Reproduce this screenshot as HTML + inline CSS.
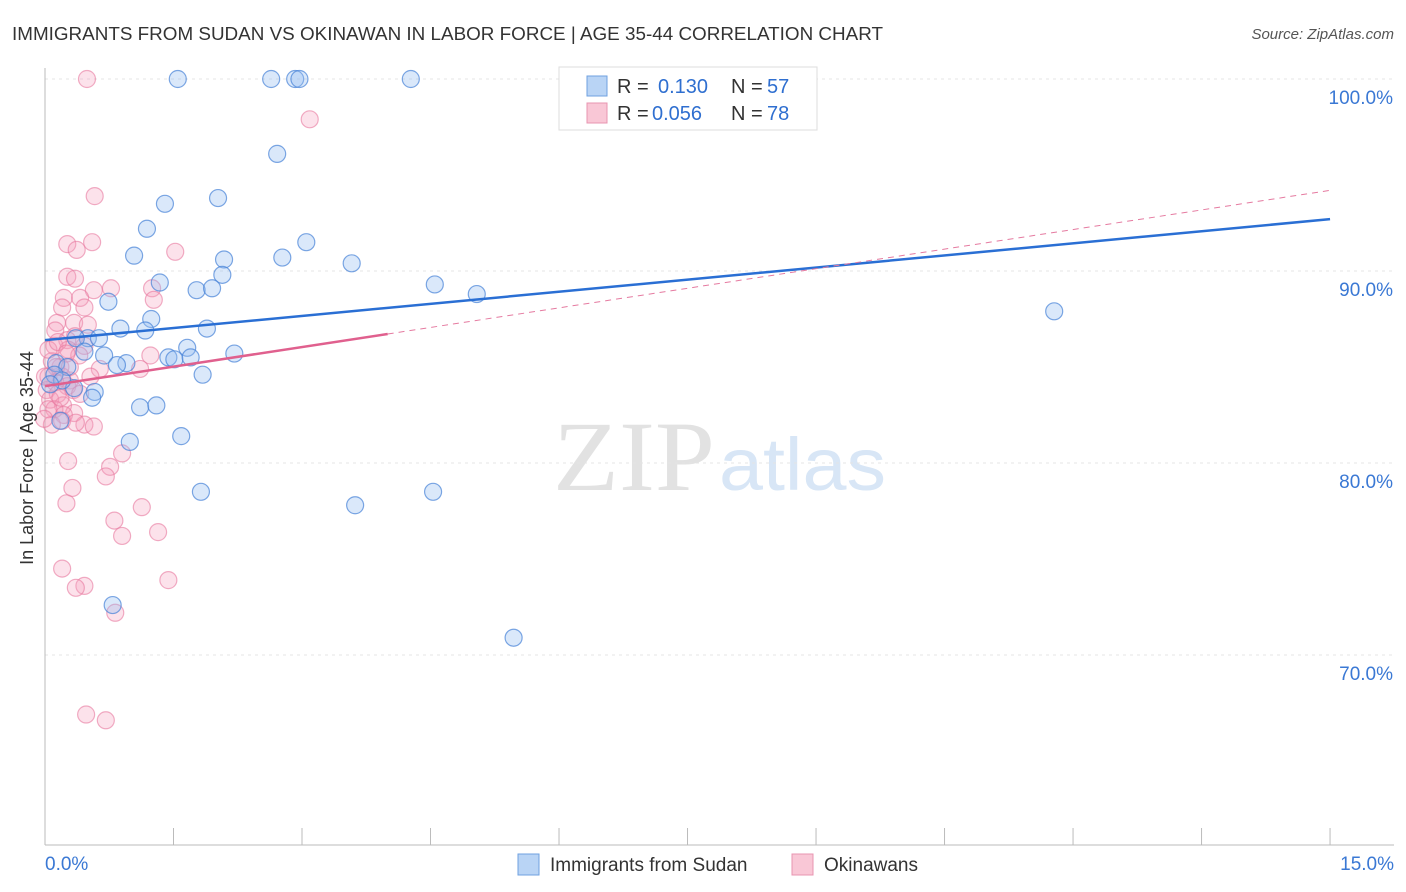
<!DOCTYPE html>
<html><head><meta charset="utf-8"><style>
body{margin:0;background:#fff;font-family:"Liberation Sans",sans-serif}
svg{display:block}
</style></head><body>
<svg id="c" width="1406" height="892">
<text x="12" y="40" font-size="18" fill="#333" textLength="871" lengthAdjust="spacingAndGlyphs">IMMIGRANTS FROM SUDAN VS OKINAWAN IN LABOR FORCE | AGE 35-44 CORRELATION CHART</text>
<text x="1394" y="39" font-size="15" fill="#555" font-style="italic" text-anchor="end">Source: ZipAtlas.com</text>
<text x="553" y="490" font-size="100" fill="#e2e2e2" textLength="162" lengthAdjust="spacingAndGlyphs" font-family="Liberation Serif,serif">ZIP</text>
<text x="719" y="490" font-size="74" fill="#d8e6f6" textLength="167" lengthAdjust="spacingAndGlyphs">atlas</text>
<g id="grid"></g><g id="axes"></g><g id="pts"></g><g id="lines"></g>
<text x="33" y="458" font-size="18" fill="#333" text-anchor="middle" transform="rotate(-90 33 458)">In Labor Force | Age 35-44</text>
<g>
<rect x="559" y="67" width="258" height="63" fill="#fff" stroke="#ddd"/>
<rect x="587" y="76" width="20" height="20" fill="#b9d4f5" stroke="#6fa1e0"/>
<rect x="587" y="103" width="20" height="20" fill="#f9c7d6" stroke="#e894b0"/>
<text x="617" y="93" font-size="20" fill="#333">R =</text>
<text x="658" y="93" font-size="20" fill="#2f6fd0">0.130</text>
<text x="731" y="93" font-size="20" fill="#333">N =</text>
<text x="767" y="93" font-size="20" fill="#2f6fd0">57</text>
<text x="617" y="120" font-size="20" fill="#333">R =</text>
<text x="652" y="120" font-size="20" fill="#2f6fd0">0.056</text>
<text x="731" y="120" font-size="20" fill="#333">N =</text>
<text x="767" y="120" font-size="20" fill="#2f6fd0">78</text>
</g>
<g>
<rect x="518" y="854" width="21" height="21" fill="#b9d4f5" stroke="#6fa1e0"/>
<text x="550" y="871" font-size="19" fill="#333">Immigrants from Sudan</text>
<rect x="792" y="854" width="21" height="21" fill="#f9c7d6" stroke="#e894b0"/>
<text x="824" y="871" font-size="19" fill="#333">Okinawans</text>
</g>
</svg>
<script>
const yTicks=[100,90,80,70];
const yTickLabels=["100.0%","90.0%","80.0%","70.0%"];
const xTickLabels=["0.0%","15.0%"];
const blueX=[1.55,2.64,2.92,2.97,4.27,2.71,1.40,2.02,1.19,1.04,2.09,2.77,3.05,3.58,2.07,1.34,1.77,1.95,4.55,5.04,0.74,11.78,1.24,0.88,1.17,1.89,0.50,0.63,0.36,0.46,1.66,2.21,0.69,1.44,1.51,1.70,0.95,0.84,1.84,0.13,0.26,0.11,0.34,0.58,0.55,1.11,1.30,0.18,1.59,0.99,1.82,4.53,3.62,0.79,5.47,0.20,0.06];
const blueY=[100,100,100,100,100,96.1,93.5,93.8,92.2,90.8,90.6,90.7,91.5,90.4,89.8,89.4,89.0,89.1,89.3,88.8,88.4,87.9,87.5,87.0,86.9,87.0,86.5,86.5,86.5,85.8,86.0,85.7,85.6,85.5,85.4,85.5,85.2,85.1,84.6,85.2,85.0,84.6,83.9,83.7,83.4,82.9,83.0,82.2,81.4,81.1,78.5,78.5,77.8,72.6,70.9,84.3,84.1];
const pinkX=[0.49,3.09,0.58,0.26,0.55,0.37,1.52,0.26,0.35,1.25,0.77,0.57,0.22,0.41,0.20,0.46,1.27,0.14,0.34,0.50,0.12,0.35,0.26,0.11,0.46,1.23,0.27,0.40,1.11,0.64,0.18,0.08,0.20,0.04,0.29,0.12,0.26,0.02,0.15,0.06,0.33,0.21,0.11,0.34,0.22,0.08,0.20,0.46,0.36,0.57,0.27,0.90,0.76,0.71,0.32,0.25,1.13,0.81,1.32,0.90,0.20,0.46,0.36,1.44,0.82,0.48,0.71,0.04,0.13,0.0,0.18,0.29,0.04,0.15,0.41,0.25,-0.01,0.53];
const pinkY=[100,97.9,93.9,91.4,91.5,91.1,91.0,89.7,89.6,89.1,89.1,89.0,88.6,88.6,88.1,88.1,88.5,87.3,87.3,87.2,86.9,86.6,86.4,86.1,86.1,85.6,85.9,85.6,84.9,84.9,85.0,85.3,84.5,84.5,84.3,84.2,84.0,83.8,83.6,83.3,83.8,83.0,82.8,82.6,82.5,82.0,82.2,82.0,82.1,81.9,80.1,80.5,79.8,79.3,78.7,77.9,77.7,77.0,76.4,76.2,74.5,73.6,73.5,73.9,72.2,66.9,66.6,85.9,85.0,84.5,83.4,85.0,82.8,86.3,83.6,85.7,82.3,84.5];
const blueTrend=[86.4,92.7];
const pinkTrend=[84.0,94.2];
const pinkSolidEnd=4.0;
const X=v=>45+v*85.67, Y=v=>79+(100-v)*19.2;
const NS='http://www.w3.org/2000/svg';
function mk(p,t,a){const e=document.createElementNS(NS,t);for(const k in a)e.setAttribute(k,a[k]);p.appendChild(e);return e;}
const grid=document.getElementById('grid'),axes=document.getElementById('axes'),pts=document.getElementById('pts'),lines=document.getElementById('lines');
yTicks.forEach((t,i)=>{
 const l=mk(grid,'line',{x1:45,x2:1394,y1:Y(t),y2:Y(t),stroke:'#e4e4e4','stroke-dasharray':'3,4'});
 
 
 const tx=mk(axes,'text',{x:1393,y:Y(t)+25,'font-size':19,fill:'#3a78d4','text-anchor':'end'});tx.textContent=yTickLabels[i];
 
 
});
mk(axes,'line',{x1:45,x2:45,y1:68,y2:845,stroke:'#bbb'});
mk(axes,'line',{x1:45,x2:1394,y1:845,y2:845,stroke:'#bbb'});
for(let i=0;i<=10;i++){const x=X(i*1.5);const t=mk(axes,'line',{x1:x,x2:x,y1:828,y2:845,stroke:'#bbb'});
 
 }
[[0,'start',45],[1,'end',1394]].forEach(([i,a,x])=>{const t=mk(axes,'text',{x:x,y:870,'font-size':19,fill:'#3a78d4','text-anchor':a});t.textContent=xTickLabels[i];
 
 });
pinkX.forEach((v,i)=>{const c=mk(pts,'circle',{cx:X(v),cy:Y(pinkY[i]),r:8.5,fill:'rgba(244,160,188,0.3)',stroke:'rgba(232,120,158,0.6)','stroke-width':1.2});
 
 });
blueX.forEach((v,i)=>{const c=mk(pts,'circle',{cx:X(v),cy:Y(blueY[i]),r:8.5,fill:'rgba(150,190,240,0.35)',stroke:'rgba(70,130,215,0.7)','stroke-width':1.2});
 
 });
const b=mk(lines,'line',{x1:X(0),y1:Y(blueTrend[0]),x2:X(15),y2:Y(blueTrend[1]),stroke:'#2a6fd4','stroke-width':2.5});


const py=v=>pinkTrend[0]+(pinkTrend[1]-pinkTrend[0])*v/15;
const pd=mk(lines,'line',{x1:X(pinkSolidEnd),y1:Y(py(pinkSolidEnd)),x2:X(15),y2:Y(pinkTrend[1]),stroke:'#e57aa0','stroke-width':1,'stroke-dasharray':'6,5'});


const ps=mk(lines,'line',{x1:X(0),y1:Y(pinkTrend[0]),x2:X(pinkSolidEnd),y2:Y(py(pinkSolidEnd)),stroke:'#e0608e','stroke-width':2.5});


</script>
</body></html>
